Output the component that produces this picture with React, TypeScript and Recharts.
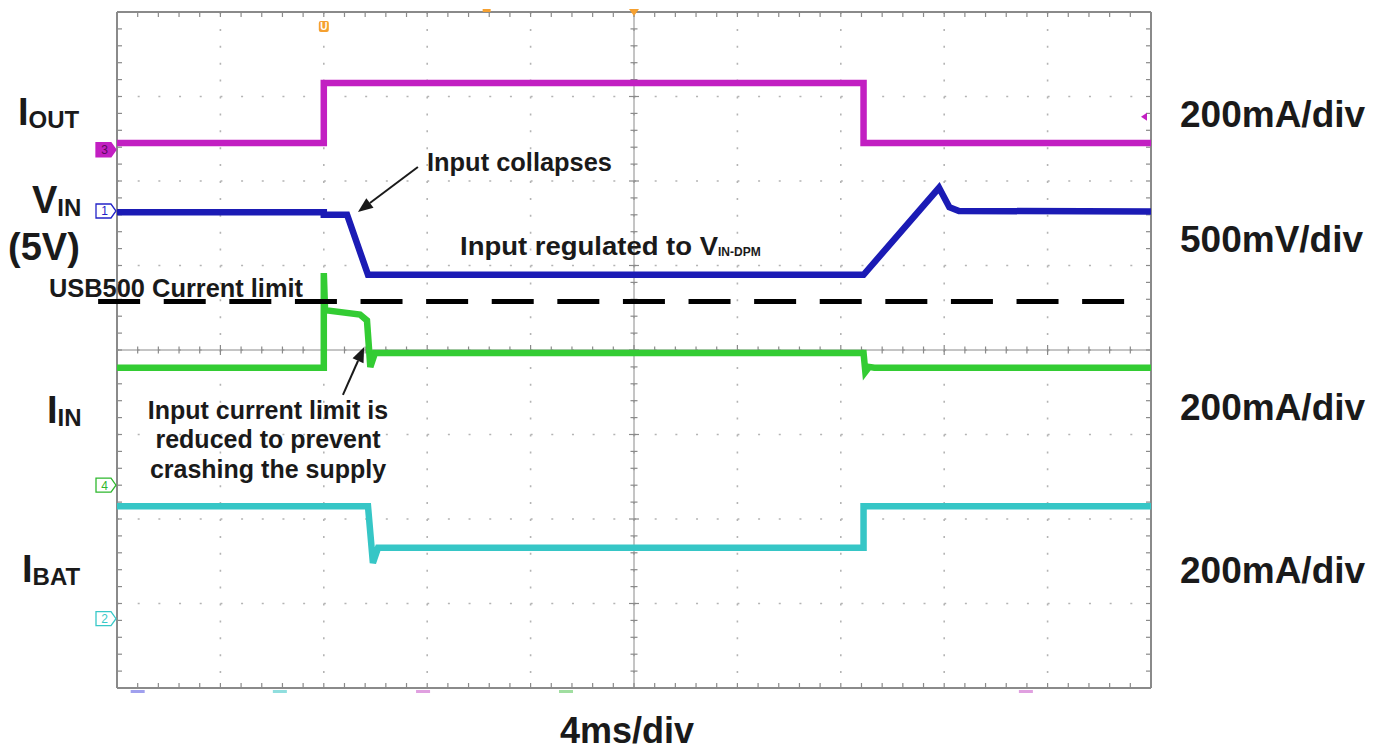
import React from 'react';
import { LineChart, Line, XAxis, YAxis, CartesianGrid, ReferenceLine, ReferenceDot } from 'recharts';

// scope capture: time in ms (4 ms/div), traces in screen divisions (0 = centre line)
const xTicks = [-20, -16, -12, -8, -4, 0, 4, 8, 12, 16, 20];
const yTicks = [-4, -3, -2, -1, 0, 1, 2, 3, 4];

const ioutT = [-20, -12, -12, 8.88, 8.88, 20];
const ioutV = [2.45, 2.45, 3.16, 3.16, 2.45, 2.45];

const vinT = [-20, -12, -12, -11.1, -10.29, 8.88, 11.8, 12.2, 12.57, 20];
const vinV = [1.63, 1.63, 1.6, 1.6, 0.89, 0.89, 1.92, 1.69, 1.645, 1.64];

const iinT = [-20, -12, -12, -11.95, -11.9, -10.6, -10.33, -10.2, -10.02, 8.88, 8.95, 9.1, 9.3, 20];
const iinV = [-0.21, -0.21, 0.91, 0.46, 0.47, 0.42, 0.35, -0.2, -0.035, -0.035, -0.26, -0.2, -0.21, -0.21];

const ibatT = [-20, -10.29, -10.1, -9.9, 8.88, 8.88, 20];
const ibatV = [-1.85, -1.85, -2.52, -2.34, -2.34, -1.85, -1.85];

// USB500 current limit (dashed)
const limitV = 0.574;
const limitSpan = [-20.73, 19.24];

// channel ground markers on the left edge
const chanLabels = ['3', '1', '4', '2'];
const chanLevels = [2.37, 1.645, -1.6, -3.18];
const chanColors = ['#c21fc2', '#2323c8', '#2eb82e', '#38c8c8'];

// small coloured marks under the bottom edge
const bottomMarkT = [-19.2, -13.7, -8.16, -2.63, 15.16];
const bottomMarkColors = ['#a0a0ee', '#90dede', '#e0a0e0', '#a0dea0', '#e0a0e0'];

const COLORS = { iout: '#c21fc2', vin: '#1b1bb5', iin: '#33cc33', ibat: '#36c6c6' };

const toPts = (t: number[], v: number[]) => t.map((x, i) => ({ t: x, v: v[i] }));

const FONT = '"Liberation Sans", Arial, Helvetica, sans-serif';

// border / crosshair line with minor ticks every 1/5 division
const tickedLine = (divs: number, side: 'pos' | 'neg' | 'both', w: number) => (p: any) => {
  const { x1, y1, x2, y2 } = p;
  const horiz = Math.abs(y1 - y2) < 0.5;
  const n = divs * 5;
  const marks: any[] = [];
  for (let i = 1; i < n; i++) {
    const f = i / n;
    const x = x1 + (x2 - x1) * f;
    const y = y1 + (y2 - y1) * f;
    const len = side === 'both' ? (i % 5 === 0 ? 5 : 3.5) : 5;
    const a = side === 'pos' ? 0 : -len;
    const b = side === 'neg' ? 0 : len;
    marks.push(
      horiz
        ? <line key={i} x1={x} x2={x} y1={y + a} y2={y + b} />
        : <line key={i} x1={x + a} x2={x + b} y1={y} y2={y} />
    );
  }
  return (
    <g stroke="#8a8a8a" strokeWidth={1.2}>
      <line x1={x1} y1={y1} x2={x2} y2={y2} strokeWidth={w} />
      {marks}
    </g>
  );
};

const arrowShape = (p: any) => {
  const { x1, y1, x2, y2 } = p;
  const ang = Math.atan2(y2 - y1, x2 - x1);
  const L = 15, W = 6;
  const bx = x2 - L * Math.cos(ang), by = y2 - L * Math.sin(ang);
  const nx = -Math.sin(ang) * W, ny = Math.cos(ang) * W;
  return (
    <g>
      <line x1={x1} y1={y1} x2={bx} y2={by} stroke="#1a1a1a" strokeWidth={2} />
      <polygon points={`${x2},${y2} ${bx + nx},${by + ny} ${bx - nx},${by - ny}`} fill="#1a1a1a" />
    </g>
  );
};

const chanShape = (i: number) => (p: any) => {
  const { cx, cy } = p;
  const c = chanColors[i];
  const filled = i === 0;
  const x0 = cx - 21, x1 = cx - 6, tip = cx - 1;
  return (
    <g>
      <polygon
        points={`${x0},${cy - 7} ${x1},${cy - 7} ${tip},${cy} ${x1},${cy + 7} ${x0},${cy + 7}`}
        fill={filled ? c : '#fff'}
        stroke={c}
        strokeWidth={1.3}
      />
      <text x={(x0 + x1) / 2 + 1} y={cy + 4.5} textAnchor="middle" fontSize={12} fontFamily={FONT}
        fill={filled ? '#5a0a5a' : c}>{chanLabels[i]}</text>
    </g>
  );
};

const Sub = ({ x, y, main, sub }: { x: number; y: number; main: string; sub: string }) => (
  <text x={x} y={y} fontFamily={FONT} fontWeight="bold" fill="#1a1a1a" fontSize={38}>
    {main}
    <tspan fontSize={24} dy={3}>{sub}</tspan>
  </text>
);

export default function App() {
  const W = 1386, H = 753;
  const txt = { fontFamily: FONT, fontWeight: 'bold' as const, fill: '#1a1a1a' };
  return (
    <div style={{ position: 'absolute', left: 0, top: 0, width: W, height: H, background: '#fff' }}>
      <LineChart width={W} height={H} margin={{ top: 12, left: 117, right: 235, bottom: 65 }}>
        <XAxis type="number" dataKey="t" domain={[-20, 20]} ticks={xTicks} allowDataOverflow hide />
        <YAxis type="number" domain={[-4, 4]} ticks={yTicks} allowDataOverflow hide />
        <CartesianGrid vertical={false} stroke="#b4b4b4" strokeWidth={1.6} strokeDasharray="2 18.68" />
        <CartesianGrid horizontal={false} stroke="#b4b4b4" strokeWidth={1.6} strokeDasharray="2 14.9" />

        <ReferenceLine x={0} shape={tickedLine(8, 'both', 1)} />
        <ReferenceLine y={0} shape={tickedLine(10, 'both', 1)} />
        <ReferenceLine y={4} shape={tickedLine(10, 'pos', 2)} />
        <ReferenceLine y={-4} shape={tickedLine(10, 'neg', 2)} />
        <ReferenceLine x={-20} shape={tickedLine(8, 'pos', 2)} />
        <ReferenceLine x={20} shape={tickedLine(8, 'neg', 2)} />

        <Line data={toPts(ioutT, ioutV)} dataKey="v" type="linear" stroke={COLORS.iout} strokeWidth={6.5}
          dot={false} activeDot={false} isAnimationActive={false} />
        <Line data={toPts(vinT, vinV)} dataKey="v" type="linear" stroke={COLORS.vin} strokeWidth={6.5}
          dot={false} activeDot={false} isAnimationActive={false} />
        <Line data={toPts(iinT, iinV)} dataKey="v" type="linear" stroke={COLORS.iin} strokeWidth={6.5}
          dot={false} activeDot={false} isAnimationActive={false} />
        <Line data={toPts(ibatT, ibatV)} dataKey="v" type="linear" stroke={COLORS.ibat} strokeWidth={6.5}
          dot={false} activeDot={false} isAnimationActive={false} />

        <ReferenceLine
          segment={[{ x: limitSpan[0], y: limitV }, { x: limitSpan[1], y: limitV }]}
          stroke="#000" strokeWidth={5} strokeDasharray="42 23.6" ifOverflow="visible"
        />

        <ReferenceLine segment={[{ x: -8.36, y: 2.166 }, { x: -10.68, y: 1.633 }]}
          shape={arrowShape} ifOverflow="visible" />
        <ReferenceLine segment={[{ x: -11.26, y: -0.53 }, { x: -10.44, y: 0.035 }]}
          shape={arrowShape} ifOverflow="visible" />

        {chanLevels.map((v, i) => (
          <ReferenceDot key={'c' + i} x={-20} y={v} r={0} shape={chanShape(i)} ifOverflow="visible" />
        ))}

        {bottomMarkT.map((t, i) => (
          <ReferenceDot key={'b' + i} x={t} y={-4} r={0} ifOverflow="visible"
            shape={(p: any) => <rect x={p.cx - 7} y={p.cy + 2} width={14} height={3} fill={bottomMarkColors[i]} />} />
        ))}

        <ReferenceDot x={-12} y={4} r={0} ifOverflow="visible"
          shape={(p: any) => (
            <g>
              <rect x={p.cx - 5} y={p.cy + 9} width={10} height={11} rx={2} fill="#f5a030" />
              <text x={p.cx} y={p.cy + 18} textAnchor="middle" fontSize={10} fontFamily={FONT} fontWeight="bold" fill="#fff">U</text>
            </g>
          )} />
        <ReferenceDot x={0} y={4} r={0} ifOverflow="visible"
          shape={(p: any) => <polygon points={`${p.cx - 5},${p.cy - 3} ${p.cx + 5},${p.cy - 3} ${p.cx},${p.cy + 4}`} fill="#f5a030" />} />
        <ReferenceDot x={-5.7} y={4} r={0} ifOverflow="visible"
          shape={(p: any) => <rect x={p.cx - 4} y={p.cy - 3} width={8} height={3} fill="#f5a030" />} />
        <ReferenceDot x={20} y={2.76} r={0} ifOverflow="visible"
          shape={(p: any) => <polygon points={`${p.cx - 10},${p.cy} ${p.cx - 4},${p.cy - 4} ${p.cx - 4},${p.cy + 4}`} fill={COLORS.iout} />} />
      </LineChart>

      <svg width={W} height={H} style={{ position: 'absolute', left: 0, top: 0, pointerEvents: 'none' }}>
        <Sub x={18} y={125} main="I" sub="OUT" />
        <Sub x={32} y={213} main="V" sub="IN" />
        <text x={8} y={260} fontSize={38} {...txt}>(5V)</text>
        <Sub x={47} y={423} main="I" sub="IN" />
        <Sub x={22} y={582} main="I" sub="BAT" />

        <text x={49} y={297} fontSize={25} textLength={254} lengthAdjust="spacingAndGlyphs" {...txt}>USB500 Current limit</text>

        <text x={1180} y={127} fontSize={37} {...txt}>200mA/div</text>
        <text x={1180} y={252} fontSize={37} {...txt}>500mV/div</text>
        <text x={1180} y={420} fontSize={37} {...txt}>200mA/div</text>
        <text x={1180} y={583} fontSize={37} {...txt}>200mA/div</text>
        <text x={560} y={743} fontSize={36} {...txt}>4ms/div</text>

        <text x={427} y={171} fontSize={25} textLength={185} lengthAdjust="spacingAndGlyphs" {...txt}>Input collapses</text>
        <text x={460} y={255} fontSize={25} {...txt}>
          <tspan textLength={258} lengthAdjust="spacingAndGlyphs">Input regulated to V</tspan>
          <tspan fontSize={12} dy={1}>IN-DPM</tspan>
        </text>

        <text x={268} y={419} fontSize={25} textAnchor="middle" {...txt}>Input current limit is</text>
        <text x={268} y={448} fontSize={25} textAnchor="middle" {...txt}>reduced to prevent</text>
        <text x={268} y={478} fontSize={25} textAnchor="middle" {...txt}>crashing the supply</text>
      </svg>
    </div>
  );
}
